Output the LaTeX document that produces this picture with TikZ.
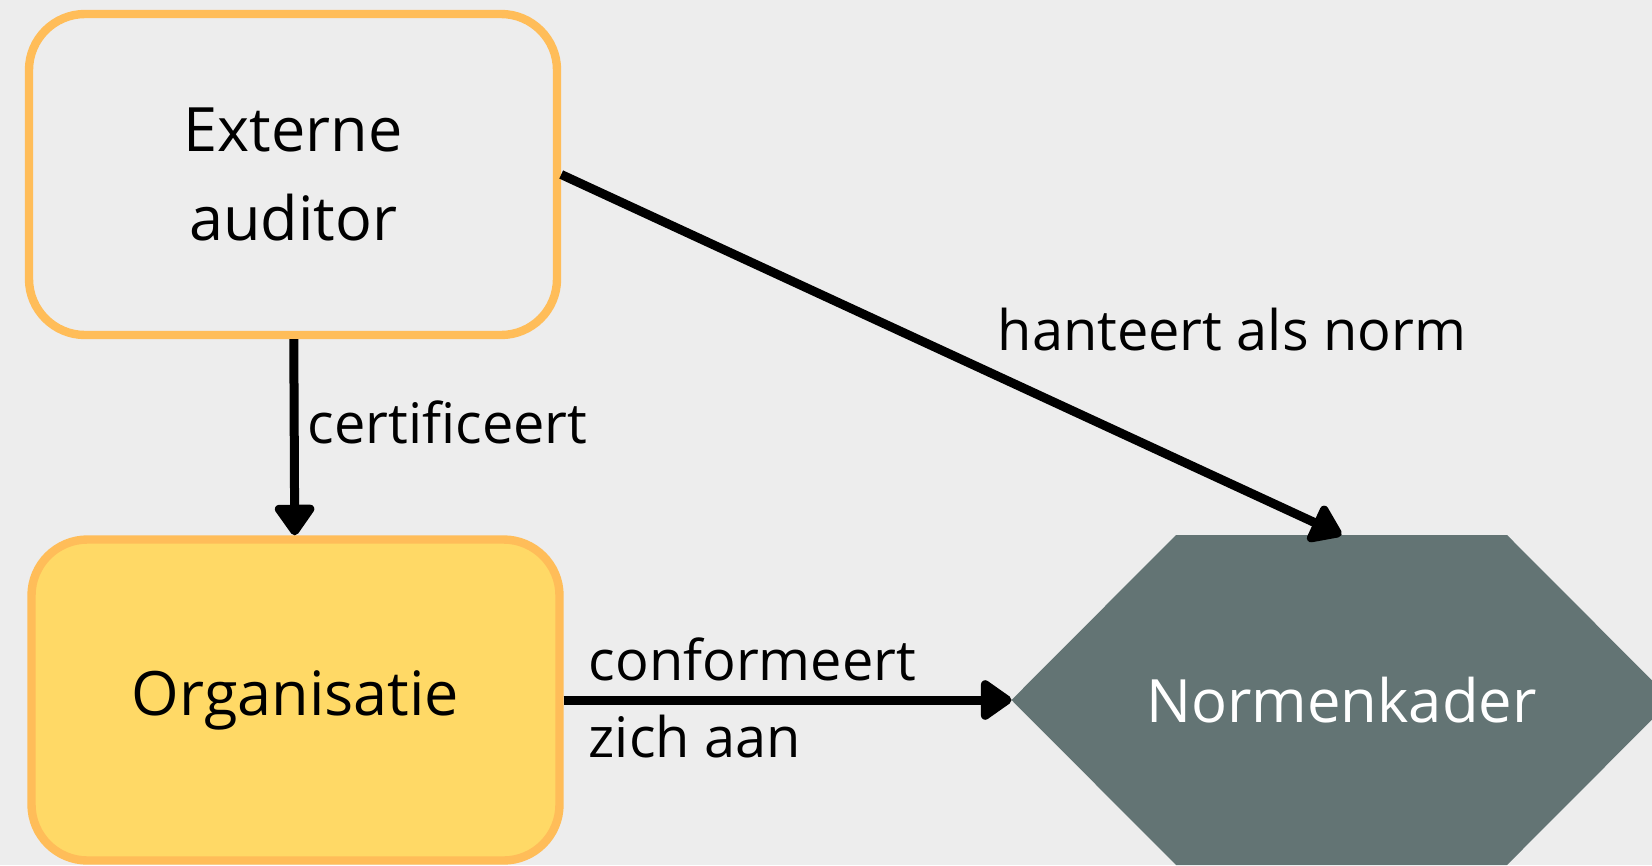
\documentclass[tikz,border=0pt]{standalone}
\usepackage{fontspec}
\setmainfont{Open Sans}
\usetikzlibrary{arrows.meta}

\definecolor{bgrey}{HTML}{EDEDED}
\definecolor{borange}{HTML}{FFBD59}
\definecolor{byellow}{HTML}{FFD966}
\definecolor{hexgrey}{HTML}{637474}

\begin{document}
\begin{tikzpicture}[
    box/.style={draw=borange,line width=.084cm,rounded corners=.56cm,
      minimum width=5.28cm,minimum height=3.21cm,align=center,
      font=\fontsize{17.4}{25.3}\selectfont},
    lbl/.style={anchor=base west,inner sep=0,font=\fontsize{15.9}{18}\selectfont},
    link/.style={line width=.09cm,-{Triangle[length=.34cm,width=.45cm,round]}}
  ]
  \fill[bgrey] (0,0) rectangle (16.52,8.65);
  \useasboundingbox (0,0) rectangle (16.52,8.65);

  % the three blocks
  \node[box,fill=bgrey] (audit) at (2.93,6.905) {Externe\\auditor};
  \node[box,fill=byellow] (org) at (2.955,1.65) {Organisatie};
  \fill[hexgrey]
    (10.115,1.65) -- (11.76,3.3) -- (15.07,3.3) -- (16.715,1.65)
    -- (15.07,0) -- (11.76,0) -- cycle;
  \node[minimum width=6.6cm,minimum height=3.3cm,inner sep=0,outer sep=0,
    text=white,font=\fontsize{17}{20}\selectfont] (norm) at (13.415,1.65) {Normenkader};

  % relations
  \draw[link] (audit) -- (org);
  \draw[link] (audit.east) -- (norm.north);
  \draw[link] (org.east) -- (norm.west);

  \node[lbl] (cert) at (3.07,4.22) {certificeert};
  \node[lbl] (hant) at (9.97,5.15) {hanteert als norm};
  \node[lbl] (conf) at (5.88,1.85) {conformeert};
  \node[lbl] (zich) at (5.88,1.077) {zich aan};
\end{tikzpicture}
\end{document}
